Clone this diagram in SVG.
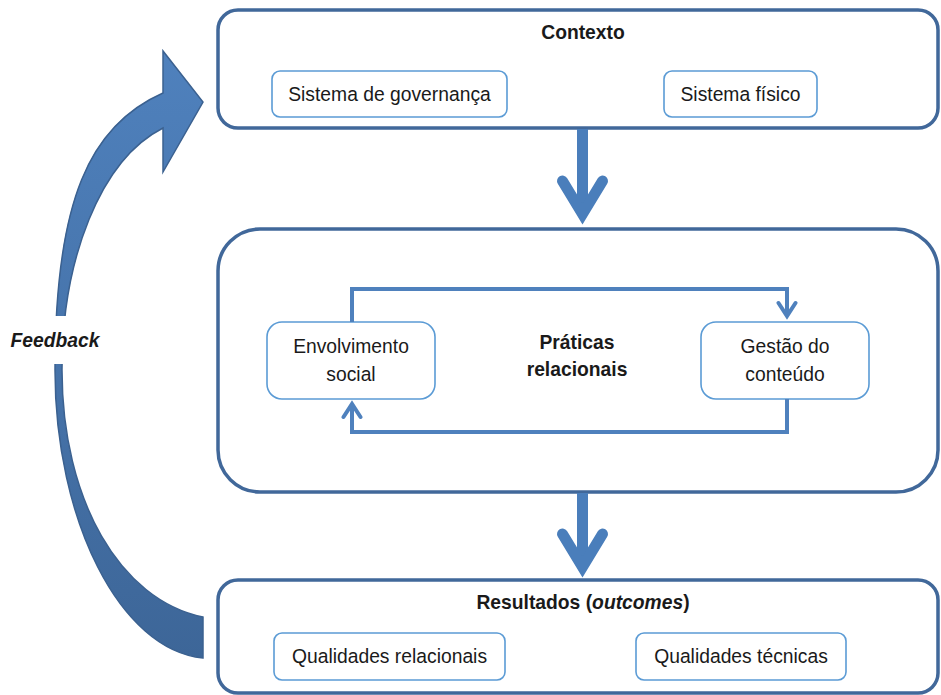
<svg xmlns="http://www.w3.org/2000/svg" width="941" height="695" viewBox="0 0 941 695">
  <style>
    .frame { fill: #ffffff; stroke: #41689a; stroke-width: 3.5; }
    .item { fill: #ffffff; stroke: #5b9bd5; stroke-width: 1.6; }
    .txt { font-family: "Liberation Sans", Arial, sans-serif; font-size: 19.3px; fill: #1a1a1a; text-anchor: middle; }
    .head { font-weight: bold; }
    .flow { fill: none; stroke: #4a7ebb; stroke-width: 11; stroke-linejoin: miter; }
    .flow-cap { stroke-linecap: round; }
    .loop { fill: none; stroke: #4f81bd; stroke-width: 4; }
  </style>
  <defs>
    <linearGradient id="fbGrad" x1="0" y1="0" x2="0" y2="1">
      <stop offset="0" stop-color="#4f81bd"/>
      <stop offset="1" stop-color="#3d6698"/>
    </linearGradient>
    <marker id="chev" markerUnits="userSpaceOnUse" viewBox="-16 -11 20 22" refX="0" refY="0" markerWidth="20" markerHeight="22" orient="auto">
      <path d="M -13 -8.5 L 0 0 L -13 8.5" fill="none" stroke="#4f81bd" stroke-width="4" stroke-linecap="round" stroke-linejoin="miter"/>
    </marker>
  </defs>

  <!-- feedback arc -->
  <g id="feedback">
    <path d="M 203 658 C 120 650 55 520 55 370 C 55 200 90 125 163 93 L 163 51 L 203 102 L 163 172 L 163 128 C 100 160 62 260 62 370 C 62 500 120 600 203 617 Z" fill="url(#fbGrad)" stroke="#3b6190" stroke-width="1.5" stroke-linejoin="miter"/>
    <rect x="30" y="316" width="60" height="48" fill="#ffffff"/>
    <text class="txt head" x="55" y="347" font-style="italic">Feedback</text>
  </g>

  <!-- context -->
  <g id="contexto">
    <rect class="frame" x="218" y="10" width="720" height="118" rx="20"/>
    <text class="txt head" x="583" y="39">Contexto</text>
  </g>
  <g id="governanca">
    <rect class="item" x="272" y="71" width="235" height="46" rx="8"/>
    <text class="txt" x="389.5" y="101">Sistema de governança</text>
  </g>
  <g id="fisico">
    <rect class="item" x="664" y="71" width="153" height="46" rx="8"/>
    <text class="txt" x="740.5" y="101">Sistema físico</text>
  </g>

  <!-- relational practices -->
  <g id="praticas">
    <rect class="frame" x="218" y="229" width="720" height="263" rx="42"/>
    <text class="txt head" x="577" y="349">Práticas</text>
    <text class="txt head" x="577" y="376">relacionais</text>
  </g>
  <g id="envolvimento">
    <rect class="item" x="267" y="322" width="168" height="77" rx="15"/>
    <text class="txt" x="351" y="353">Envolvimento</text>
    <text class="txt" x="351" y="381">social</text>
  </g>
  <g id="gestao">
    <rect class="item" x="701" y="322" width="168" height="77" rx="15"/>
    <text class="txt" x="785" y="353">Gestão do</text>
    <text class="txt" x="785" y="381">conteúdo</text>
  </g>

  <!-- outcomes -->
  <g id="resultados">
    <rect class="frame" x="218" y="580" width="720" height="113" rx="20"/>
    <text class="txt head" x="583" y="609">Resultados (<tspan font-style="italic">outcomes</tspan>)</text>
  </g>
  <g id="relacionais">
    <rect class="item" x="274" y="633" width="231" height="47" rx="8"/>
    <text class="txt" x="389.5" y="663">Qualidades relacionais</text>
  </g>
  <g id="tecnicas">
    <rect class="item" x="636" y="633" width="210" height="47" rx="8"/>
    <text class="txt" x="741" y="663">Qualidades técnicas</text>
  </g>

  <!-- connectors -->
  <g id="connectors">
    <line class="flow" x1="582.5" y1="129" x2="582.5" y2="214"/>
    <polyline class="flow flow-cap" points="562.5,181 582.5,214 602.5,181"/>
    <line class="flow" x1="582.5" y1="493" x2="582.5" y2="567"/>
    <polyline class="flow flow-cap" points="562.5,534 582.5,567 602.5,534"/>
    <polyline class="loop" points="352,322 352,289 787,289 787,316" marker-end="url(#chev)"/>
    <polyline class="loop" points="787,399 787,432 352,432 352,404" marker-end="url(#chev)"/>
  </g>
</svg>
